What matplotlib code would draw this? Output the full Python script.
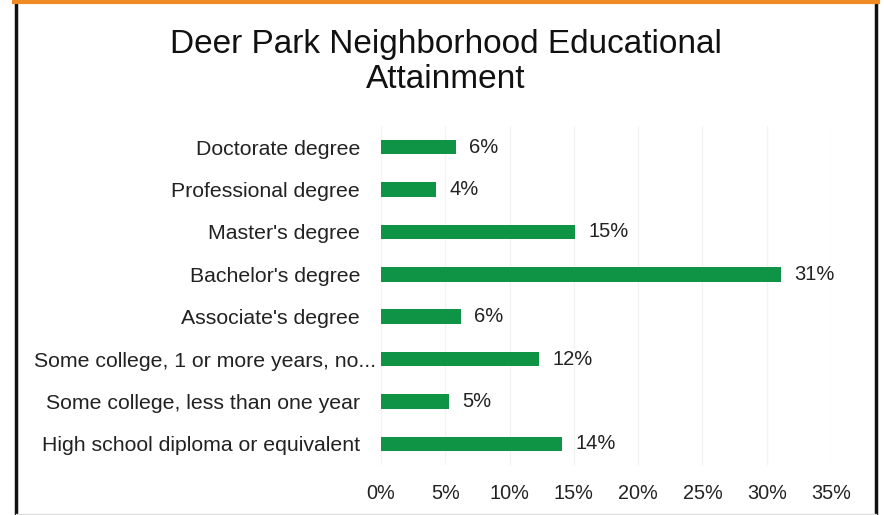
import matplotlib.pyplot as plt
from matplotlib.lines import Line2D
from matplotlib.transforms import ScaledTranslation

# data, top to bottom
categories = ["Doctorate degree", "Professional degree", "Master's degree",
              "Bachelor's degree", "Associate's degree",
              "Some college, 1 or more years, no...",
              "Some college, less than one year",
              "High school diploma or equivalent"]
shares = [5.8, 4.3, 15.1, 31.1, 6.2, 12.3, 5.3, 14.1]
ticks = [0, 5, 10, 15, 20, 25, 30, 35]

plt.rcParams['font.family'] = ['Liberation Sans', 'DejaVu Sans']

fig = plt.figure(figsize=(8.84, 5.15), dpi=100)
ax = fig.add_axes([381 / 884, 1 - 465 / 515, 450 / 884, 339 / 515])

ypos = list(range(len(categories)))
ax.barh(ypos, shares, height=0.34, color='#0f9345')
for y, v in zip(ypos, shares):
    ax.text(v + 1.05, y, "{:.0f}%".format(v), va='center', ha='left',
            fontsize=14.5, color='#222222')

ax.set_xlim(0, 35)
ax.set_ylim(len(categories) - 0.5, -0.5)
ax.set_yticks(ypos)
ax.set_yticklabels(categories, fontsize=15.3, color='#222222')
ax.set_xticks(ticks)
ax.set_xticklabels(["{}%".format(t) for t in ticks], fontsize=14.3, color='#222222')
ax.tick_params(axis='both', length=0)
ax.tick_params(axis='x', pad=14)
ax.tick_params(axis='y', pad=15)
ax.grid(axis='x', color='#f3f3f3', linewidth=1)
ax.set_axisbelow(True)
for s in ax.spines.values():
    s.set_visible(False)

# the truncated label runs closer to the bar in the original
lab = ax.get_yticklabels()[5]
lab.set_transform(lab.get_transform() + ScaledTranslation(0.16, 0, fig.dpi_scale_trans))

fig.text(446 / 884, 1 - 45 / 515, "Deer Park Neighborhood Educational",
         ha='center', va='center', fontsize=24, color='#111111')
fig.text(446 / 884, 1 - 80 / 515, "Attainment",
         ha='center', va='center', fontsize=24, color='#111111')

# frame around the picture
fig.add_artist(Line2D([16 / 884, 16 / 884], [0, 1 - 3 / 515], color='#111111', linewidth=2.5))
fig.add_artist(Line2D([876 / 884, 876 / 884], [0, 1 - 3 / 515], color='#111111', linewidth=2.5))
fig.add_artist(Line2D([14 / 884, 878 / 884], [1 - 1.5 / 515, 1 - 1.5 / 515], color='#f08a24', linewidth=3))
fig.add_artist(Line2D([16 / 884, 876 / 884], [1 / 515, 1 / 515], color='#dddddd', linewidth=1))

fig.savefig("out.png", dpi=100)
